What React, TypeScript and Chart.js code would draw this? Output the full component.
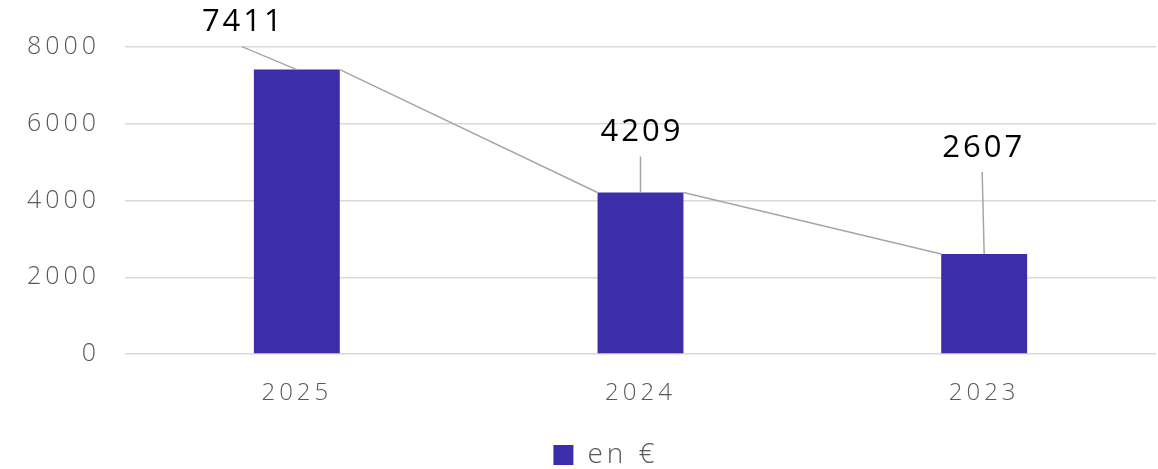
import React, { useEffect, useRef } from "react";
import { Chart, registerables } from "chart.js";

Chart.register(...registerables);

const categories = ["2025", "2024", "2023"];
const values = [7411, 4209, 2607];
const yTickValues = [0, 2000, 4000, 6000, 8000];
const seriesLabel = "en €";

// label placement relative to the top centre of each bar (layout only)
const labelOffsets = [
  { dx: -55, dy: -49 },
  { dx: 0, dy: -62 },
  { dx: -2, dy: -108 },
];

const BAR_COLOR = "#3C2DA8";
const GRID = "#D9D9D9";
const TICK = "#595959";
const LINE = "#A6A6A6";

const overlayPlugin = {
  id: "overlay",
  afterLayout(chart: any) {
    if (chart.legend) chart.legend.left += 40;
  },
  beforeDraw(chart: any) {
    (chart.ctx as any).letterSpacing = "4px";
  },
  afterDatasetsDraw(chart: any) {
    const ctx = chart.ctx as CanvasRenderingContext2D;
    const meta = chart.getDatasetMeta(0);
    const bars = meta.data.map((el: any) => el.getProps(["x", "y", "width"], true));
    ctx.save();
    ctx.strokeStyle = LINE;
    ctx.lineWidth = 1.5;
    // series lines between bars
    ctx.beginPath();
    for (let i = 0; i < bars.length - 1; i++) {
      const a = bars[i];
      const b = bars[i + 1];
      ctx.moveTo(a.x + a.width / 2, a.y);
      ctx.lineTo(b.x - b.width / 2, b.y);
    }
    ctx.stroke();
    // leader lines
    ctx.beginPath();
    bars.forEach((b: any, i: number) => {
      const o = labelOffsets[i];
      ctx.moveTo(b.x + o.dx, b.y + o.dy + 26);
      ctx.lineTo(b.x, b.y);
    });
    ctx.stroke();
    // labels
    (ctx as any).letterSpacing = "3px";
    ctx.fillStyle = "#000000";
    ctx.font = "400 31px 'Open Sans', 'DejaVu Sans', sans-serif";
    ctx.textAlign = "center";
    ctx.textBaseline = "middle";
    bars.forEach((b: any, i: number) => {
      const o = labelOffsets[i];
      ctx.fillText(String(values[i]), b.x + o.dx + 1.5, b.y + o.dy + 2);
    });
    ctx.restore();
  },
};

export default function App() {
  const ref = useRef<HTMLCanvasElement | null>(null);
  useEffect(() => {
    if (!ref.current) return;
    const chart = new Chart(ref.current, {
      type: "bar",
      data: {
        labels: categories,
        datasets: [
          {
            label: seriesLabel,
            data: values,
            backgroundColor: BAR_COLOR,
            borderWidth: 0,
            barPercentage: 0.25,
            categoryPercentage: 1,
          },
        ],
      },
      options: {
        animation: false,
        responsive: false,
        maintainAspectRatio: false,
        layout: { padding: { top: 47, right: 2, left: 0, bottom: -10 } },
        plugins: {
          tooltip: { enabled: false },
          legend: {
            position: "bottom",
            labels: {
              boxWidth: 20,
              boxHeight: 20,
              padding: 2,
              color: TICK,
              font: { family: "'Open Sans', sans-serif", size: 28, weight: "300" },
            },
          },
        },
        scales: {
          x: {
            grid: { display: false },
            border: { display: false },
            ticks: {
              color: TICK,
              padding: 17,
              font: { family: "'Open Sans', sans-serif", size: 24, weight: "300" },
            },
            afterFit(scale: any) {
              scale.height = 85;
            },
          },
          y: {
            min: 0,
            max: 8000,
            afterBuildTicks(scale: any) {
              scale.ticks = yTickValues.map((v) => ({ value: v }));
            },
            grid: { color: GRID, lineWidth: 1.5, drawTicks: false },
            border: { display: false },
            ticks: {
              color: TICK,
              padding: 25,
              font: { family: "'Open Sans', sans-serif", size: 25, weight: "300" },
              callback: (v: any) => String(v),
            },
            afterFit(scale: any) {
              scale.width = 125;
            },
          },
        },
      },
      plugins: [overlayPlugin],
    });
    return () => chart.destroy();
  }, []);
  return (
    <div style={{ position: "fixed", left: 0, top: 0, width: 1158, height: 469, background: "#fff" }}>
      <canvas ref={ref} width={1158} height={469} style={{ width: 1158, height: 469 }} />
    </div>
  );
}
